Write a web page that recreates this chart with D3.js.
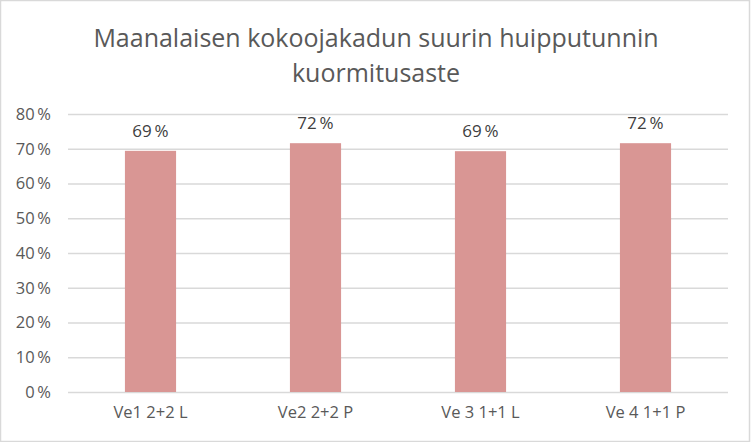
<!DOCTYPE html>
<html>
<head>
<meta charset="utf-8">
<script src="https://cdn.jsdelivr.net/npm/d3@7"></script>
<style>
  body { margin: 0; background: #fff; }
  svg { display: block; font-family: "Open Sans", "Noto Sans", sans-serif; }
</style>
</head>
<body>
<svg id="chart"></svg>
<script>
// chart data
const categories = ['Ve1 2+2 L', 'Ve2 2+2 P', 'Ve 3 1+1 L', 'Ve 4 1+1 P']
const values = [0.694, 0.716, 0.693, 0.716]
const yTicks = [0, 0.1, 0.2, 0.3, 0.4, 0.5, 0.6, 0.7, 0.8]
const titleLines = ['Maanalaisen kokoojakadun suurin huipputunnin', 'kuormitusaste']

const W = 752, H = 442
const margin = { top: 114, right: 24, bottom: 50, left: 68 }
const width = W - margin.left - margin.right
const height = H - margin.top - margin.bottom

const FONT = '"Open Sans", "Noto Sans", sans-serif'
const pct = v => Math.round(v * 100) + '\u2009%'

const svg = d3.select('#chart')
    .attr('width', W)
    .attr('height', H)

// outer border
svg.append('rect')
    .attr('x', 0.5).attr('y', 0.5)
    .attr('width', W - 3).attr('height', H - 1)
    .attr('fill', '#fff')
    .attr('stroke', '#d9d9d9')
    .attr('stroke-width', 1.5)

// title
const title = svg.append('text')
    .attr('text-anchor', 'middle')
    .attr('fill', '#595959')
    .style('font-size', '25px')

title.selectAll('tspan')
    .data(titleLines)
    .enter()
    .append('tspan')
    .attr('x', 376)
    .attr('y', (d, i) => 47 + i * 35)
    .text(d => d)

const g = svg.append('g')
    .attr('transform', 'translate(' + margin.left + ',' + margin.top + ')')

const x = d3.scaleBand()
    .domain(categories)
    .range([0, width])
    .paddingInner(0.69)
    .paddingOuter(0.345)

const y = d3.scaleLinear()
    .domain([0, 0.8])
    .range([height, 0])

// gridlines + y labels
const yAxis = d3.axisLeft(y)
    .tickValues(yTicks)
    .tickSize(-width)
    .tickPadding(17)
    .tickFormat(pct)

g.append('g')
    .attr('class', 'y axis')
    .call(yAxis)
    .attr('font-family', FONT)
    .attr('font-size', 16.5)
    .call(s => s.select('.domain').remove())
    .call(s => s.selectAll('line').attr('stroke', '#d9d9d9').attr('stroke-width', 1.3))
    .call(s => s.selectAll('text').attr('fill', '#595959'))

// x labels
const xAxis = d3.axisBottom(x)
    .tickSize(0)
    .tickPadding(14)

g.append('g')
    .attr('class', 'x axis')
    .attr('transform', 'translate(0,' + height + ')')
    .call(xAxis)
    .attr('font-family', FONT)
    .attr('font-size', 16.5)
    .call(s => s.select('.domain').remove())
    .call(s => s.selectAll('text').attr('fill', '#595959'))

// bars
g.selectAll('.bar')
    .data(values)
    .enter()
    .append('rect')
    .attr('class', 'bar')
    .attr('x', (d, i) => x(categories[i]))
    .attr('y', d => y(d))
    .attr('width', x.bandwidth())
    .attr('height', d => height - y(d))
    .attr('fill', '#d99694')

// data labels
g.selectAll('.label')
    .data(values)
    .enter()
    .append('text')
    .attr('class', 'label')
    .attr('x', (d, i) => x(categories[i]) + x.bandwidth() / 2)
    .attr('y', d => y(d) - 14)
    .attr('text-anchor', 'middle')
    .attr('fill', '#404040')
    .style('font-size', '17px')
    .text(pct)
</script>
</body>
</html>
